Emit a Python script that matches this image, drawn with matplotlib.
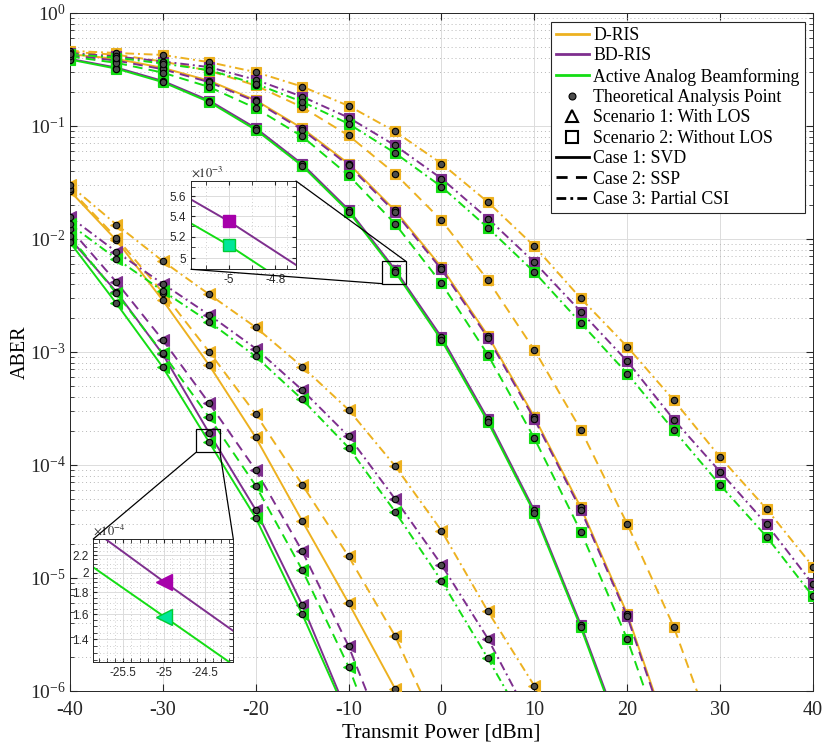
import numpy as np
import matplotlib
matplotlib.use('Agg')
from matplotlib import pyplot as plt
from matplotlib.lines import Line2D
from matplotlib.patches import Rectangle, ConnectionPatch
from matplotlib.ticker import FixedLocator, FixedFormatter, NullFormatter, LogLocator

plt.rcParams['font.family'] = 'Liberation Serif'
plt.rcParams['mathtext.fontset'] = 'stix'
plt.rcParams['axes.unicode_minus'] = False

p_dbm = [-40, -35, -30, -25, -20, -15, -10, -5, 0, 5, 10, 15, 20, 25, 30, 35, 40]

# Escenario 1: con LOS (triangulos)
d_svd_s1 = [0.0265, 0.0097, 2.85e-3, 7.6e-4, 1.75e-4, 3.2e-5, 6.0e-6, 1.05e-6, 1.8e-7]
d_ssp_s1 = [0.0275, 0.0102, 3.34e-3, 9.98e-4, 2.81e-4, 6.7e-5, 1.55e-5, 3.07e-6, 3.9e-7]
d_pcsi_s1 = [0.0297, 0.01336, 6.34e-3, 3.22e-3, 1.65e-3, 7.4e-4, 3.07e-4, 9.8e-5, 2.62e-5, 5.06e-6, 1.11e-6, 2.5e-7]
bd_svd_s1 = [0.0100, 3.4e-3, 9.5e-4, 1.905e-4, 4.0e-5, 5.8e-6, 6.0e-7]
bd_ssp_s1 = [0.0123, 4.14e-3, 1.27e-3, 3.5e-4, 9.0e-5, 1.73e-5, 2.49e-6, 2.3e-7]
bd_pcsi_s1 = [0.0156, 7.66e-3, 4.0e-3, 2.12e-3, 1.07e-3, 4.6e-4, 1.79e-4, 5.0e-5, 1.31e-5, 2.9e-6, 4.8e-7]
aa_svd_s1 = [0.0093, 2.68e-3, 7.3e-4, 1.58e-4, 3.4e-5, 4.8e-6, 5.7e-7]
aa_ssp_s1 = [0.0105, 3.29e-3, 9.7e-4, 2.63e-4, 6.55e-5, 1.18e-5, 1.64e-6, 1.4e-7]
aa_pcsi_s1 = [0.0134, 6.66e-3, 3.45e-3, 1.84e-3, 9.1e-4, 3.8e-4, 1.42e-4, 3.86e-5, 9.44e-6, 1.94e-6, 3.7e-7]

# Escenario 2: sin LOS (cuadrados)
d_svd_s2 = [0.43, 0.39, 0.325, 0.25, 0.168, 0.095, 0.0462, 0.0178, 0.0056, 1.39e-3, 2.65e-4, 4.2e-5, 4.8e-6, 3.0e-7]
d_ssp_s2 = [0.45, 0.425, 0.37, 0.306, 0.227, 0.146, 0.082, 0.0377, 0.01455, 4.31e-3, 1.04e-3, 2.05e-4, 3.0e-5, 3.71e-6, 2.7e-7]
d_pcsi_s2 = [0.46, 0.44, 0.423, 0.365, 0.298, 0.222, 0.150, 0.089, 0.0463, 0.0211, 8.6e-3, 2.97e-3, 1.11e-3, 3.74e-4, 1.17e-4, 4.08e-5, 1.26e-5]
bd_svd_s2 = [0.39, 0.327, 0.249, 0.167, 0.0954, 0.0459, 0.0181, 5.35e-3, 1.35e-3, 2.54e-4, 3.95e-5, 3.86e-6, 3.0e-7]
bd_ssp_s2 = [0.42, 0.377, 0.316, 0.243, 0.164, 0.0922, 0.0446, 0.0172, 5.36e-3, 1.33e-3, 2.54e-4, 4.0e-5, 4.57e-6, 2.8e-7]
bd_pcsi_s2 = [0.44, 0.41, 0.37, 0.33, 0.255, 0.181, 0.118, 0.067, 0.0341, 0.0151, 6.2e-3, 2.27e-3, 8.26e-4, 2.52e-4, 8.7e-5, 2.99e-5, 8.77e-6]
aa_svd_s2 = [0.385, 0.32, 0.243, 0.162, 0.092, 0.0442, 0.0174, 5.12e-3, 1.27e-3, 2.4e-4, 3.75e-5, 3.65e-6, 2.8e-7]
aa_ssp_s2 = [0.41, 0.36, 0.295, 0.22, 0.143, 0.0805, 0.0364, 0.0136, 4.03e-3, 9.4e-4, 1.72e-4, 2.57e-5, 2.88e-6, 1.9e-7]
aa_pcsi_s2 = [0.43, 0.40, 0.355, 0.31, 0.235, 0.163, 0.104, 0.0574, 0.0289, 0.0125, 5.07e-3, 1.8e-3, 6.43e-4, 2.03e-4, 6.65e-5, 2.32e-5, 6.87e-6]

naranja = '#EDB120'
morado = '#7E2F8E'
verde = '#14DD14'
guion = (0, (5, 3.2))
punto_guion = (0, (4.5, 2, 1, 2))

curvas = [
    (d_svd_s2, naranja, '-', 's'), (d_ssp_s2, naranja, guion, 's'), (d_pcsi_s2, naranja, punto_guion, 's'),
    (bd_svd_s2, morado, '-', 's'), (bd_ssp_s2, morado, guion, 's'), (bd_pcsi_s2, morado, punto_guion, 's'),
    (aa_svd_s2, verde, '-', 's'), (aa_ssp_s2, verde, guion, 's'), (aa_pcsi_s2, verde, punto_guion, 's'),
    (d_svd_s1, naranja, '-', '<'), (d_ssp_s1, naranja, guion, '<'), (d_pcsi_s1, naranja, punto_guion, '<'),
    (bd_svd_s1, morado, '-', '<'), (bd_ssp_s1, morado, guion, '<'), (bd_pcsi_s1, morado, punto_guion, '<'),
    (aa_svd_s1, verde, '-', '<'), (aa_ssp_s1, verde, guion, '<'), (aa_pcsi_s1, verde, punto_guion, '<'),
]

fig = plt.figure(figsize=(8.3, 7.51), dpi=100)
ax = fig.add_axes([0.0843, 0.0799, 0.8952, 0.9032])

for y, col, ls, mk in curvas:
    x = p_dbm[:len(y)]
    ms = 7.5 if mk == 's' else 9
    ax.plot(x, y, color=col, ls=ls, lw=1.4, marker=mk, ms=ms, mfc=col, mec=col, mew=0.8, zorder=3)
for y, col, ls, mk in curvas:
    ax.plot(p_dbm[:len(y)], y, ls='none', marker='o', ms=4.6, mfc='#4d4d4d', mec='k', mew=0.8, zorder=5)

ax.set_yscale('log')
ax.set_xlim(-40, 40)
ax.set_ylim(1e-6, 1)
ax.set_xticks(range(-40, 41, 10))
ax.yaxis.set_major_locator(LogLocator(base=10, numticks=10))
ax.yaxis.set_minor_locator(LogLocator(base=10, subs=np.arange(2, 10), numticks=20))
ax.yaxis.set_minor_formatter(NullFormatter())
ax.grid(True, which='major', color='#dcdcdc', lw=0.7)
ax.grid(True, which='minor', axis='y', color='#b8b8b8', lw=0.7, ls=(0, (1, 3)))
ax.set_axisbelow(True)
ax.tick_params(which='both', direction='in', top=True, right=True, colors='#262626')
ax.tick_params(axis='x', labelsize=14.5, pad=7)
ax.tick_params(axis='y', labelsize=14, pad=3)
ax.tick_params(which='major', length=5)
ax.tick_params(which='minor', length=3)
for s in ax.spines.values():
    s.set_color('#262626')
    s.set_linewidth(0.7)
ax.set_xlabel('Transmit Power [dBm]', fontsize=15.5, labelpad=3)
ax.set_ylabel('ABER', fontsize=14.5)
ax.yaxis.set_label_coords(-0.054, 0.5)

# leyenda
h = [
    Line2D([], [], color=naranja, lw=2),
    Line2D([], [], color=morado, lw=2),
    Line2D([], [], color=verde, lw=2),
    Line2D([], [], ls='none', marker='o', ms=5, mfc='#4d4d4d', mec='k', mew=0.8),
    Line2D([], [], ls='none', marker='^', ms=9, mfc='none', mec='k', mew=1.5),
    Line2D([], [], ls='none', marker='s', ms=8, mfc='none', mec='k', mew=1.5),
    Line2D([], [], color='k', lw=2),
    Line2D([], [], color='k', lw=2, ls=(0, (4, 3))),
    Line2D([], [], color='k', lw=2, ls=(0, (3.5, 1.5, 1, 1.5))),
]
etiquetas = ['D-RIS', 'BD-RIS', 'Active Analog Beamforming', 'Theoretical Analysis Point',
             'Scenario 1: With LOS', 'Scenario 2: Without LOS', 'Case 1: SVD', 'Case 2: SSP',
             'Case 3: Partial CSI']
leg = ax.legend(h, etiquetas, loc='upper right', bbox_to_anchor=(805 / 830, 1 - 21.7 / 751),
                bbox_transform=fig.transFigure, borderaxespad=0, fontsize=12.8, fancybox=False,
                framealpha=1, edgecolor='#262626', handlelength=1.85, handletextpad=0.25,
                labelspacing=0.19, borderpad=0.3)
leg.get_frame().set_linewidth(0.8)

# cajas de zoom
ax.add_patch(Rectangle((-6.37, 4.01e-3), 2.52, 6.34e-3 - 4.01e-3, fill=False, ec='k', lw=0.9, zorder=6))
ax.add_patch(Rectangle((-26.43, 1.29e-4), 2.58, 2.08e-4 - 1.29e-4, fill=False, ec='k', lw=0.9, zorder=6))


def inset(pos, xl, yl, yt, ytl, xt, exp):
    a = fig.add_axes(pos)
    a.set_yscale('log')
    a.set_xlim(*xl)
    a.set_ylim(*yl)
    a.set_xticks(xt)
    a.set_xticklabels([('%g' % v) for v in xt])
    a.yaxis.set_major_locator(FixedLocator(yt))
    a.yaxis.set_major_formatter(FixedFormatter(ytl))
    a.yaxis.set_minor_formatter(NullFormatter())
    a.tick_params(which='both', direction='in', top=True, right=True, labelsize=8.5,
                  colors='#262626', length=3)
    for t in a.get_xticklabels() + a.get_yticklabels():
        t.set_family('Liberation Sans')
    a.grid(True, which='major', color='#dcdcdc', lw=0.7)
    a.grid(True, which='minor', color='#c0c0c0', lw=0.6, ls=(0, (1, 3)))
    for s in a.spines.values():
        s.set_color('#262626')
        s.set_linewidth(0.7)
    a.text(0.0, 1.01, r'$\times10^{%d}$' % exp, transform=a.transAxes, fontsize=9,
           va='bottom', ha='left', color='#262626')
    return a


ax1 = inset([191 / 830, 1 - 269.3 / 751, 105 / 830, 88.3 / 751], (-5.164, -4.71), (4.90e-3, 5.76e-3),
            [5.0e-3, 5.2e-3, 5.4e-3, 5.6e-3], ['5', '5.2', '5.4', '5.6'], [-5, -4.8], -3)
ax1.xaxis.set_minor_locator(FixedLocator([-5.1, -4.9, -4.75]))
ax1.yaxis.set_minor_locator(FixedLocator([5.1e-3, 5.3e-3, 5.5e-3, 5.7e-3]))
ax1.plot(p_dbm[:len(bd_svd_s2)], bd_svd_s2, color=morado, lw=1.4, marker='s', ms=8,
         mfc='#A600AA', mec='#A600AA')
ax1.plot(p_dbm[:len(aa_svd_s2)], aa_svd_s2, color=verde, lw=1.4, marker='s', ms=8,
         mfc='#00E69A', mec='#00CC33')

ax2 = inset([93.3 / 830, 1 - 662.3 / 751, 140 / 830, 123.3 / 751], (-25.867, -24.153), (1.235e-4, 2.40e-4),
            [1.4e-4, 1.6e-4, 1.8e-4, 2.0e-4, 2.2e-4], ['1.4', '1.6', '1.8', '2', '2.2'],
            [-25.5, -25, -24.5], -4)
ax2.xaxis.set_minor_locator(FixedLocator(np.arange(-25.8, -24.15, 0.1)))
ax2.yaxis.set_minor_locator(FixedLocator(np.arange(1.25e-4, 2.4e-4, 0.05e-4)))
ax2.plot(p_dbm[:len(bd_svd_s1)], bd_svd_s1, color=morado, lw=1.4, marker='<', ms=11,
         mfc='#A600AA', mec='#A600AA')
ax2.plot(p_dbm[:len(aa_svd_s1)], aa_svd_s1, color=verde, lw=1.4, marker='<', ms=11,
         mfc='#00E69A', mec='#00CC33')

# lineas de conexion
for xa, xb in [((1, 1), (-3.85, 6.34e-3)), ((0, 0), (-6.37, 4.01e-3))]:
    fig.add_artist(ConnectionPatch(xyA=xa, coordsA=ax1.transAxes, xyB=xb, coordsB=ax.transData,
                                   color='k', lw=0.9))
for xa, xb in [((0, 1), (-26.43, 1.29e-4)), ((1, 1), (-23.85, 1.29e-4))]:
    fig.add_artist(ConnectionPatch(xyA=xa, coordsA=ax2.transAxes, xyB=xb, coordsB=ax.transData,
                                   color='k', lw=0.9))

plt.savefig('out.png', dpi=100)
